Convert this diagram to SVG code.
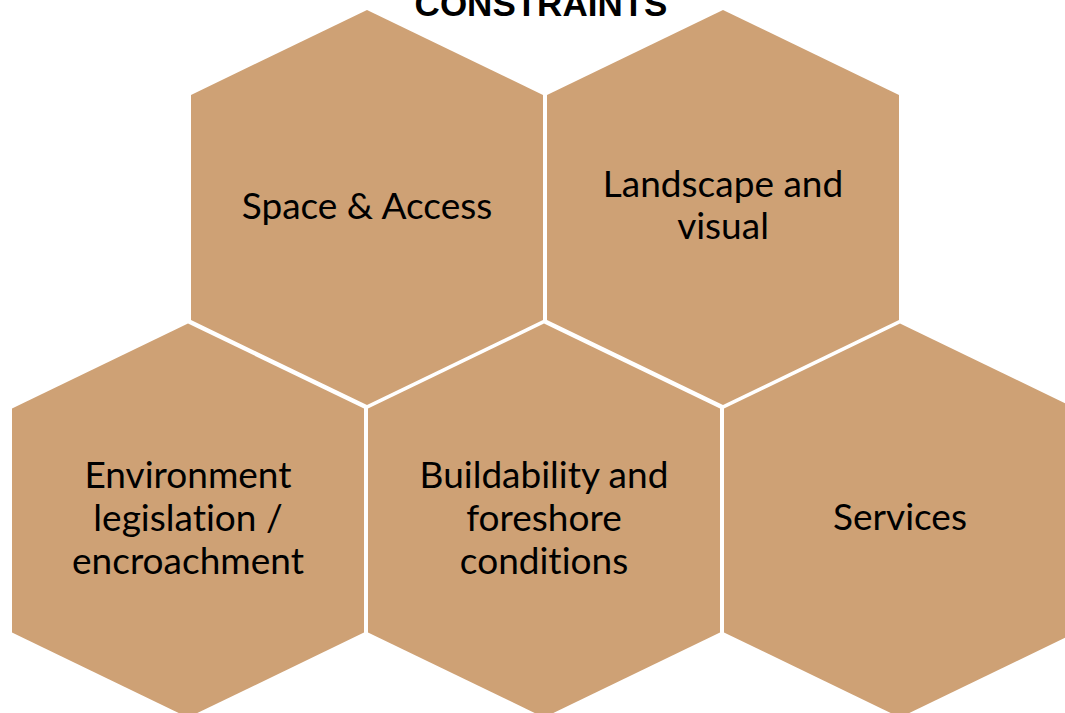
<svg xmlns="http://www.w3.org/2000/svg" width="1065" height="713" viewBox="0 0 1065 713">
  <style>
    .hex { fill: #CEA175; }
    .label { font-family: Lato, "Open Sans", "Liberation Sans", sans-serif; font-size: 37px; fill: #000; text-anchor: middle; font-variant-ligatures: none; font-feature-settings: "liga" 0, "clig" 0; }
    .title { font-family: "Liberation Sans", Arial, sans-serif; font-weight: bold; font-size: 35px; fill: #000; text-anchor: middle; }
  </style>
  <rect width="1065" height="713" fill="#fff"/>

  <text class="title" x="541" y="16">CONSTRAINTS</text>

  <g id="space-access">
    <polygon class="hex" points="367,10 543,95 543,320 367,405 191,320 191,95"/>
    <text class="label" x="367" y="219">Space &amp; Access</text>
  </g>

  <g id="landscape-visual">
    <polygon class="hex" points="723,10 899,95 899,320 723,405 547,320 547,95"/>
    <text class="label" x="723" y="197">Landscape and</text>
    <text class="label" x="723" y="239">visual</text>
  </g>

  <g id="environment">
    <polygon class="hex" points="188,323.5 364,408.5 364,632.5 188,717.5 12,632.5 12,408.5"/>
    <text class="label" x="188" y="488">Environment</text>
    <text class="label" x="188" y="531">legislation /</text>
    <text class="label" x="188" y="574">encroachment</text>
  </g>

  <g id="buildability">
    <polygon class="hex" points="544,323.5 720,408.5 720,632.5 544,717.5 368,632.5 368,408.5"/>
    <text class="label" x="544" y="488">Buildability and</text>
    <text class="label" x="544" y="531">foreshore</text>
    <text class="label" x="544" y="574">conditions</text>
  </g>

  <g id="services">
    <polygon class="hex" points="900,323.5 1076,408.5 1076,632.5 900,717.5 724,632.5 724,408.5"/>
    <text class="label" x="900" y="530">Services</text>
  </g>

  <g id="connectors"/>
</svg>
